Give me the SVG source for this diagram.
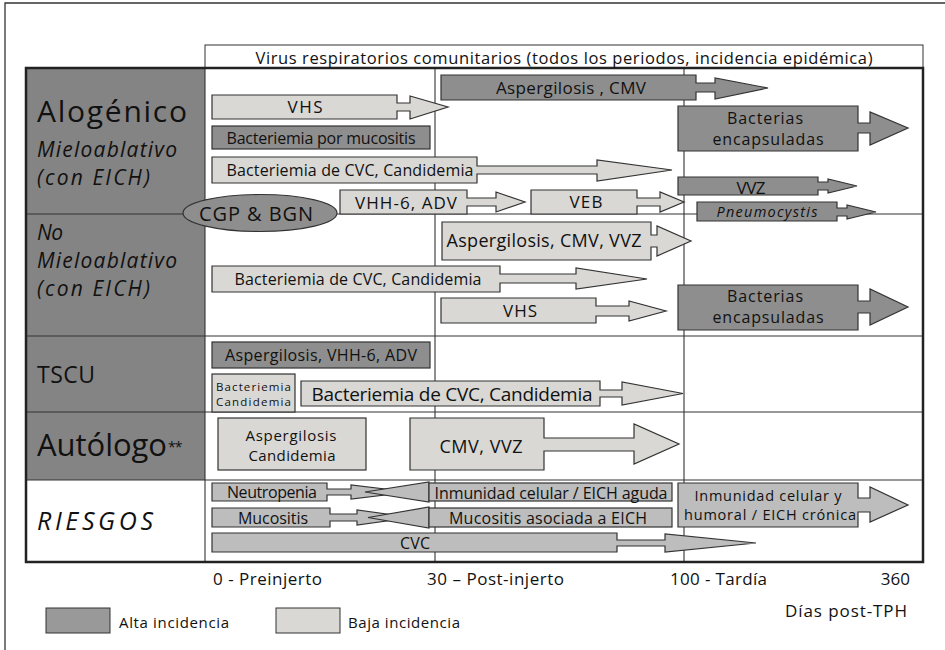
<svg xmlns="http://www.w3.org/2000/svg" width="945" height="650" viewBox="0 0 945 650">
<style>
.dk{fill:#8e8e8e;stroke:#333;stroke-width:1.2}
.lt{fill:#d9d8d4;stroke:#333;stroke-width:1.2}
.md{fill:#bdbdbd;stroke:#333;stroke-width:1.2}
.grid{stroke:#333;stroke-width:1.1;fill:none}
text{font-family:"Open Sans","Liberation Sans",Arial,sans-serif;fill:#111}
.c{text-anchor:middle}
.it{font-style:italic}
.s16{font-size:16px}
.s17{font-size:17px}
.s18{font-size:18px}
.lab{font-size:21px;font-style:italic}
</style>
<rect width="945" height="650" fill="#fff"/>
<path d="M5 650 V3 H945" fill="none" stroke="#333" stroke-width="1.3"/>

<g id="table">
<rect x="205" y="45" width="718" height="23" fill="#fff" stroke="#333" stroke-width="1"/>
<rect x="26" y="68" width="179" height="412" fill="#848484"/>
<line class="grid" x1="26" y1="214" x2="923" y2="214"/>
<line class="grid" x1="26" y1="336" x2="923" y2="336"/>
<line class="grid" x1="26" y1="412" x2="923" y2="412"/>
<line class="grid" x1="26" y1="480" x2="923" y2="480"/>
<line class="grid" x1="205" y1="68" x2="205" y2="562"/>
<line class="grid" x1="435" y1="68" x2="435" y2="562"/>
<line class="grid" x1="684" y1="68" x2="684" y2="562"/>
<rect x="26" y="68" width="897" height="494" fill="none" stroke="#222" stroke-width="2.5"/>
<text x="564" y="63.5" class="c" style="font-size:16.5px" textLength="617">Virus respiratorios comunitarios (todos los periodos, incidencia epidémica)</text>
</g>

<g id="labels">
<text x="37" y="122" style="font-size:30px" textLength="150">Alogénico</text>
<text x="37" y="157" class="lab" textLength="140">Mieloablativo</text>
<text x="37" y="185" class="lab" textLength="113">(con EICH)</text>
<text x="37" y="240" class="lab" textLength="26">No</text>
<text x="37" y="268" class="lab" textLength="140">Mieloablativo</text>
<text x="37" y="296" class="lab" textLength="113">(con EICH)</text>
<text x="37" y="383" style="font-size:23px" textLength="58">TSCU</text>
<text x="37" y="456" style="font-size:31px" textLength="130">Autólogo</text>
<text x="168" y="452" style="font-size:14px;letter-spacing:-1px">**</text>
<text x="37" y="530" class="it" style="font-size:25px" textLength="116">RIESGOS</text>
</g>

<g id="connectors">
</g>

<g id="n-vhs1"><path class="lt" d="M212 95 H397 V103 H410 V96 L448 107 L410 119 V111 H397 V119 H212 Z"/><text x="305" y="113" class="c s17" textLength="35">VHS</text></g>
<g id="n-asp-cmv"><path class="dk" d="M441 75 H696 V83 H715 V78 L768 88 L715 99 V92 H696 V100 H441 Z"/><text x="571" y="94" class="c s17" textLength="150">Aspergilosis , CMV</text></g>
<g id="n-bactmuc"><rect class="dk" x="212" y="126" width="218" height="23"/><text x="321" y="144" class="c s16" textLength="189">Bacteriemia por mucositis</text></g>
<g id="n-bactenc1"><path class="dk" d="M678 106 H858 V123 H870 V112 L908 128 L870 145 V133 H858 V151 H678 Z"/><text x="765" y="124" class="c s16" textLength="76">Bacterias</text><text x="768" y="145" class="c s16" textLength="111">encapsuladas</text></g>
<g id="n-cvc1"><path class="lt" d="M212 157 H477 V166 H597 V160 L672 170 L597 181 V174 H477 V183 H212 Z"/><text x="350" y="176" class="c s16" textLength="247">Bacteriemia de CVC, Candidemia</text></g>
<g id="n-vvz1"><path class="dk" d="M678 177 H818 V182 H828 V179 L857 186 L828 193 V190 H818 V195 H678 Z"/><text x="751" y="194" class="c s17" textLength="29">VVZ</text></g>
<g id="n-vhh6"><path class="lt" d="M340 190 H467 V198 H496 V192 L525 202 L496 212 V206 H467 V214 H340 Z"/><text x="406" y="209" class="c s17" textLength="102">VHH-6, ADV</text></g>
<g id="n-veb"><path class="lt" d="M531 190 H637 V198 H660 V192 L684 202 L660 212 V206 H637 V214 H531 Z"/><text x="586" y="208" class="c s17" textLength="33">VEB</text></g>
<g id="n-pneumo"><path class="dk" d="M697 202 H837 V208 H847 V205 L876 212 L847 219 V216 H837 V221 H697 Z"/><text x="767" y="216.5" class="c it" style="font-size:14.5px" textLength="101">Pneumocystis</text></g>
<g id="n-cgp"><ellipse class="dk" cx="260" cy="213" rx="77" ry="18.5"/><text x="256" y="221" class="c" style="font-size:20px" textLength="114">CGP &amp; BGN</text></g>

<g id="n-asp-cmv-vvz"><path class="lt" d="M442 222 H651 V235 H657 V226 L691 241 L657 256 V247 H651 V260 H442 Z"/><text x="544" y="247" class="c s18" textLength="195">Aspergilosis, CMV, VVZ</text></g>
<g id="n-cvc2"><path class="lt" d="M212 266 H500 V274 H576 V268 L647 279 L576 289 V283 H500 V292 H212 Z"/><text x="358" y="285" class="c s16" textLength="247">Bacteriemia de CVC, Candidemia</text></g>
<g id="n-vhs2"><path class="lt" d="M441 298 H596 V306 H629 V301 L666 311 L629 321 V316 H596 V323 H441 Z"/><text x="520" y="317" class="c s17" textLength="34">VHS</text></g>
<g id="n-bactenc2"><path class="dk" d="M678 285 H858 V301 H870 V289 L908 307 L870 325 V313 H858 V330 H678 Z"/><text x="765" y="302" class="c s16" textLength="76">Bacterias</text><text x="768" y="323" class="c s16" textLength="111">encapsuladas</text></g>

<g id="n-asp-tscu"><rect class="dk" x="212" y="342" width="218" height="26"/><text x="321" y="361" class="c s16" textLength="192">Aspergilosis, VHH-6, ADV</text></g>
<g id="n-bact-small"><rect class="lt" x="212" y="374" width="83" height="38"/><text x="253.5" y="391" class="c" style="font-size:11.5px" textLength="75">Bacteriemia</text><text x="253.5" y="406" class="c" style="font-size:11.5px" textLength="75">Candidemia</text></g>
<g id="n-cvc-tscu"><path class="lt" d="M301 381 H600 V390 H622 V382 L683 393.5 L622 405 V397 H600 V406 H301 Z"/><text x="452" y="401" class="c" style="font-size:19px" textLength="281">Bacteriemia de CVC, Candidemia</text></g>

<g id="n-asp-auto"><rect class="lt" x="218" y="418" width="148" height="52"/><text x="291" y="441" class="c" style="font-size:15px" textLength="91">Aspergilosis</text><text x="292" y="461" class="c" style="font-size:15px" textLength="87">Candidemia</text></g>
<g id="n-cmv-auto"><path class="lt" d="M410 418 H544 V438 H634 V424 L679 444 L634 464 V451 H544 V470 H410 Z"/><text x="481" y="453" class="c s18" textLength="83">CMV, VVZ</text></g>

<g id="n-neutro"><path class="md" d="M212 483 H327 V489 H351 V485 L410 492 L351 499 V495 H327 V501 H212 Z"/><text x="272" y="498" class="c s16" textLength="90">Neutropenia</text></g>
<g id="n-inmun"><polygon class="md" points="429,482 429,502 365,492"/><rect class="md" x="429" y="483" width="243" height="18"/><text x="551" y="498.5" class="c s16" textLength="233">Inmunidad celular / EICH aguda</text></g>
<g id="n-muco"><path class="md" d="M212 508 H330 V514 H357 V510 L412 517.5 L357 525 V521 H330 V527 H212 Z"/><text x="273" y="523.5" class="c s16" textLength="70">Mucositis</text></g>
<g id="n-muco-eich"><polygon class="md" points="429,507 429,528 368,517.5"/><rect class="md" x="429" y="508" width="243" height="19"/><text x="548" y="523.5" class="c s16" textLength="198">Mucositis asociada a EICH</text></g>
<g id="n-cvc-r"><path class="md" d="M212 533 H617 V540 H665 V534 L756 543 L665 552 V546 H617 V552 H212 Z"/><text x="415" y="549" class="c s16" textLength="30">CVC</text></g>
<g id="n-inmun-cr"><path class="md" d="M678 483 H858 V498 H870 V487 L908 505 L870 522 V512 H858 V527 H678 Z"/><text x="768" y="501" class="c" style="font-size:14.5px" textLength="147">Inmunidad celular y</text><text x="770" y="520" class="c" style="font-size:14.5px" textLength="172">humoral / EICH crónica</text></g>

<g id="axis">
<text x="213" y="585" class="s17" textLength="109">0 - Preinjerto</text>
<text x="427" y="585" class="s17" textLength="137">30 – Post-injerto</text>
<text x="670" y="585" class="s17" textLength="97">100 - Tardía</text>
<text x="910" y="585" class="s17" style="text-anchor:end">360</text>
<text x="907" y="617" class="s17" style="text-anchor:end" textLength="122">Días post-TPH</text>
</g>

<g id="legend">
<rect x="46" y="608" width="64" height="25" fill="#999" stroke="#333" stroke-width="1"/>
<text x="119" y="628" style="font-size:15px" textLength="110">Alta incidencia</text>
<rect x="276" y="608" width="64" height="25" fill="#d9d8d4" stroke="#333" stroke-width="1"/>
<text x="348" y="628" style="font-size:15px" textLength="112">Baja incidencia</text>
</g>
</svg>
